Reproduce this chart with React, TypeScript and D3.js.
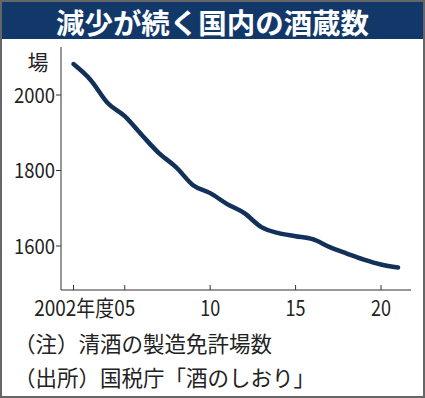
import React, { useEffect, useRef } from 'react';
import * as d3 from 'd3';

const years = [2002, 2003, 2004, 2005, 2006, 2007, 2008, 2009, 2010, 2011, 2012, 2013, 2014, 2015, 2016, 2017, 2018, 2019, 2020, 2021];
const breweries = [2082, 2040, 1979, 1944, 1894, 1846, 1809, 1761, 1740, 1711, 1687, 1650, 1634, 1626, 1618, 1597, 1580, 1564, 1551, 1543];
const yTicks = [1600, 1800, 2000];
const xTicks = [2002, 2005, 2010, 2015, 2020];
const xTickLabels = ['', '2002年度05', '10', '15', '20'];

const title = '減少が続く国内の酒蔵数';
const unit = '場';
const notes = ['（注）清酒の製造免許場数', '（出所）国税庁「酒のしおり」'];

const W = 425;
const H = 398;
const font = '"Noto Sans CJK JP", "Noto Sans", sans-serif';

const App = () => {
  const svgRef = useRef<SVGSVGElement>(null);

  useEffect(() => {
    const svg = d3.select(svgRef.current);
    svg.selectAll('*').remove();

    const x = d3.scaleLinear().domain([2002, 2020]).range([73.5, 381]);
    const y = d3.scaleLinear().domain([1600, 2000]).range([246, 95]);
    const axisLeft = 61, axisBottom = 290, axisTop = 47, axisRight = 411;

    svg.append('rect').attr('width', W).attr('height', H).attr('fill', '#fff');

    // title bar
    svg.append('rect').attr('width', W).attr('height', 39).attr('fill', '#12386a');
    svg.append('text')
      .attr('x', W / 2).attr('y', 21)
      .attr('text-anchor', 'middle').attr('dominant-baseline', 'central')
      .attr('fill', '#fff').attr('font-family', font).attr('font-weight', 'bold')
      .attr('font-size', 28.5).attr('textLength', 313).attr('lengthAdjust', 'spacingAndGlyphs')
      .text(title);

    const g = svg.append('g').attr('font-family', font).attr('fill', '#222');

    // axes lines
    g.append('line').attr('x1', axisLeft).attr('x2', axisLeft).attr('y1', axisTop).attr('y2', axisBottom)
      .attr('stroke', '#333').attr('stroke-width', 1);
    g.append('line').attr('x1', axisLeft).attr('x2', axisRight).attr('y1', axisBottom).attr('y2', axisBottom)
      .attr('stroke', '#333').attr('stroke-width', 1);

    // y ticks
    yTicks.forEach(v => {
      g.append('line').attr('x1', axisLeft - 5).attr('x2', axisLeft).attr('y1', y(v)).attr('y2', y(v))
        .attr('stroke', '#333');
      g.append('text').attr('x', 55).attr('y', y(v) + 7.5)
        .attr('text-anchor', 'end').attr('font-size', 21)
        .attr('textLength', 41).attr('lengthAdjust', 'spacingAndGlyphs')
        .text(String(v));
    });
    g.append('text').attr('x', 38).attr('y', 70).attr('text-anchor', 'middle').attr('font-size', 21).text(unit);

    // x ticks ("05" centred on its tick, the first-year prefix hangs to the left)
    xTicks.forEach((v, i) => {
      g.append('line').attr('x1', x(v)).attr('x2', x(v)).attr('y1', axisBottom - 5).attr('y2', axisBottom)
        .attr('stroke', '#333');
      const label = xTickLabels[i];
      if (!label) return;
      const long = label.length > 2;
      g.append('text').attr('x', long ? x(v) + 10.5 : x(v)).attr('y', 316)
        .attr('text-anchor', long ? 'end' : 'middle').attr('font-size', 21.5)
        .attr('textLength', long ? 101 : 20).attr('lengthAdjust', 'spacingAndGlyphs')
        .text(label);
    });

    // line
    const line = d3.line<number>()
      .x((_, i) => x(years[i]))
      .y(d => y(d))
      .curve(d3.curveMonotoneX);
    g.append('path').attr('d', line(breweries))
      .attr('fill', 'none').attr('stroke', '#12305a').attr('stroke-width', 4.5)
      .attr('stroke-linecap', 'round').attr('stroke-linejoin', 'round');

    // notes
    notes.forEach((t, i) => {
      g.append('text').attr('x', 14).attr('y', 352 + i * 34).attr('font-size', 21.5).text(t);
    });

    // frame
    svg.append('rect').attr('x', 1).attr('y', 1).attr('width', W - 2).attr('height', H - 2)
      .attr('fill', 'none').attr('stroke', '#666').attr('stroke-width', 2);
  }, []);

  return (
    <div style={{ position: 'absolute', left: 0, top: 0 }}>
      <svg ref={svgRef} width={W} height={H} />
    </div>
  );
};

export default App;
